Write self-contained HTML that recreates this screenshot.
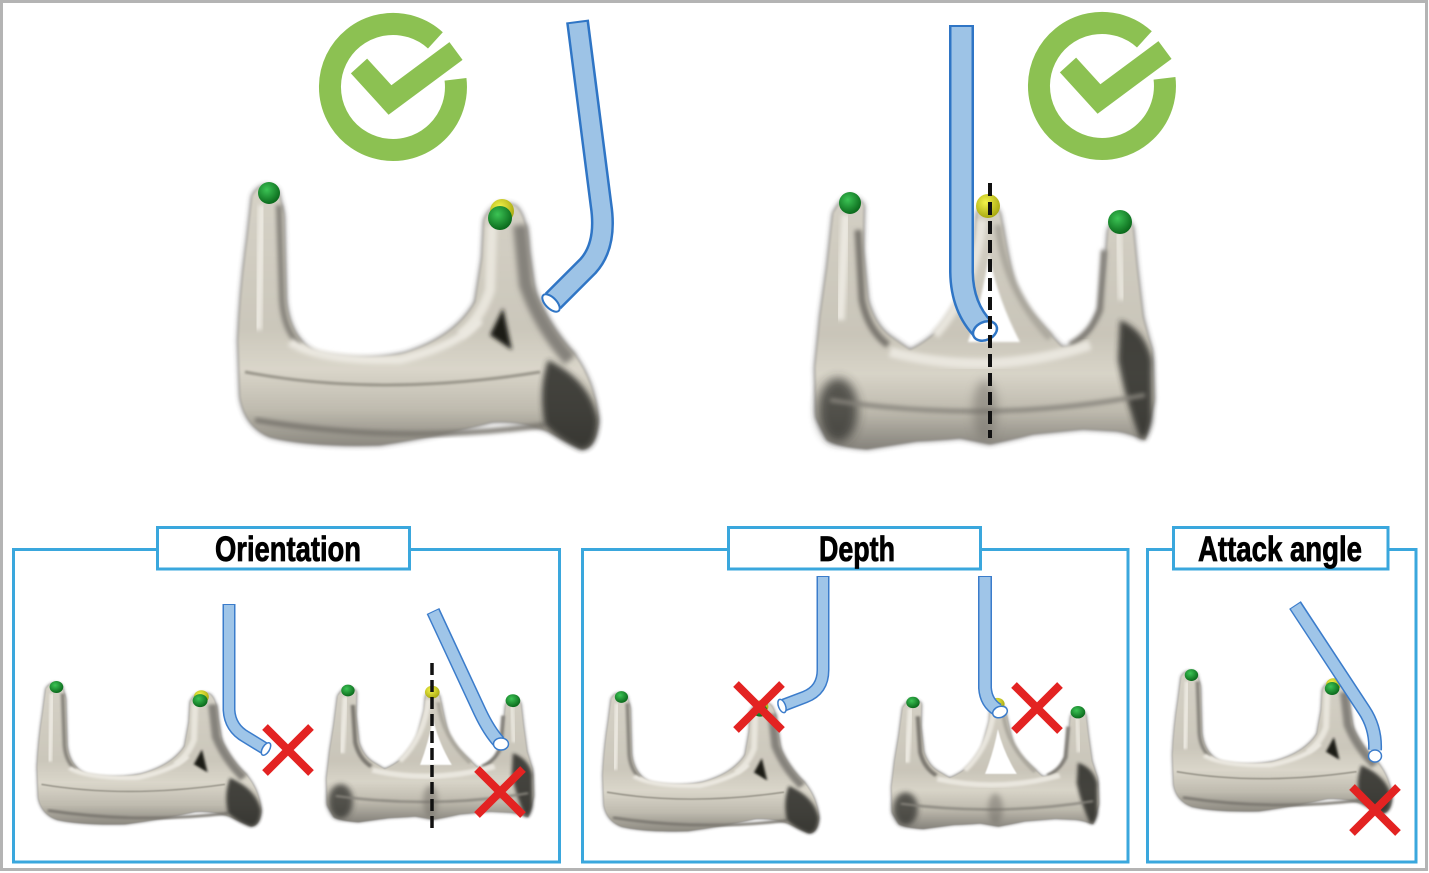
<!DOCTYPE html>
<html><head><meta charset="utf-8"><style>html,body{margin:0;padding:0;background:#fff}svg{display:block}</style></head>
<body>
<svg xmlns="http://www.w3.org/2000/svg" width="1429" height="873" viewBox="0 0 1429 873">
<defs>
  <filter id="fb1" x="-30%" y="-30%" width="160%" height="160%"><feGaussianBlur stdDeviation="1"/></filter>
  <filter id="fb2" x="-30%" y="-30%" width="160%" height="160%"><feGaussianBlur stdDeviation="2"/></filter>
  <filter id="fb3" x="-30%" y="-30%" width="160%" height="160%"><feGaussianBlur stdDeviation="3"/></filter>
  <filter id="fb5" x="-50%" y="-50%" width="200%" height="200%"><feGaussianBlur stdDeviation="5"/></filter>
  <radialGradient id="gg" cx="40%" cy="35%" r="65%"><stop offset="0" stop-color="#3cc455"/><stop offset="1" stop-color="#0b6a1c"/></radialGradient>
  <radialGradient id="gy" cx="40%" cy="35%" r="65%"><stop offset="0" stop-color="#f4f44a"/><stop offset="1" stop-color="#a9a912"/></radialGradient>
  <linearGradient id="gradA" gradientUnits="userSpaceOnUse" x1="0" y1="180" x2="0" y2="450">
    <stop offset="0" stop-color="#d6d2c7"/><stop offset="0.55" stop-color="#cbc7bb"/>
    <stop offset="0.7" stop-color="#dad6ca"/><stop offset="0.85" stop-color="#bfbbaf"/>
    <stop offset="1" stop-color="#85827a"/>
  </linearGradient>
  <linearGradient id="gradB" gradientUnits="userSpaceOnUse" x1="0" y1="195" x2="0" y2="450">
    <stop offset="0" stop-color="#d4d0c5"/><stop offset="0.55" stop-color="#c9c5b9"/>
    <stop offset="0.7" stop-color="#d8d4c8"/><stop offset="0.85" stop-color="#bdb9ad"/>
    <stop offset="1" stop-color="#84817a"/>
  </linearGradient>

  <g id="valveA">
    <path d="M252,196 Q262,178 278,190 L284,215 L285,260 L286,300 Q290,340 318,354 Q360,363 405,353 Q455,337 475,302 L482,258 L484,220 Q494,197 516,206 Q527,216 528,250 L535,294 Q550,330 575,355 Q596,385 598,420 Q596,448 582,449 Q565,441 548,431 Q520,420 492,422 Q440,436 380,445 Q310,447 270,437 Q245,427 240,397 L238,340 Q240,290 247,240 Z" fill="#3d3b37" opacity="0.85" filter="url(#fb3)"/>
    <path d="M252,196 Q262,178 278,190 L284,215 L285,260 L286,300 Q290,340 318,354 Q360,363 405,353 Q455,337 475,302 L482,258 L484,220 Q494,197 516,206 Q527,216 528,250 L535,294 Q550,330 575,355 Q596,385 598,420 Q596,448 582,449 Q565,441 548,431 Q520,420 492,422 Q440,436 380,445 Q310,447 270,437 Q245,427 240,397 L238,340 Q240,290 247,240 Z" fill="url(#gradA)" filter="url(#fb1)"/>
    <path d="M279,205 L282,300 Q284,330 300,345" stroke="#85827a" stroke-width="6" fill="none" filter="url(#fb2)"/>
    <path d="M262,205 L258,330" stroke="#ebe8e0" stroke-width="8" fill="none" filter="url(#fb2)"/>
    <path d="M492,225 L490,290 Q480,320 460,335" stroke="#e8e5dc" stroke-width="10" fill="none" filter="url(#fb2)"/>
    <path d="M520,225 L526,285 Q540,325 570,360" stroke="#85827b" stroke-width="14" fill="none" filter="url(#fb3)"/>
    <path d="M290,342 Q320,362 400,360 Q460,345 480,320" stroke="#ebe8e0" stroke-width="8" fill="none" filter="url(#fb2)"/>
    <path d="M245,372 Q380,398 540,372" stroke="#9a968b" stroke-width="3" fill="none" filter="url(#fb1)"/>
    <path d="M255,420 Q400,445 545,425" stroke="#7a7770" stroke-width="5" fill="none" filter="url(#fb2)"/>
    <path d="M490,335 L503,308 L512,350 Z" fill="#1c1b19" filter="url(#fb2)"/>
    <path d="M548,360 Q590,380 598,420 Q596,450 580,449 Q560,440 545,425 Q538,390 548,360 Z" fill="#2a2926" opacity="0.85" filter="url(#fb3)"/>
    <circle cx="269" cy="193" r="11" fill="url(#gg)"/>
    <circle cx="502" cy="211" r="12" fill="url(#gy)"/>
    <circle cx="500" cy="218" r="12" fill="url(#gg)"/>
  </g>

  <g id="valveB">
    <path d="M838,205 Q850,188 864,205 L863,250 L868,300 Q875,325 890,336 L910,350 Q930,340 942,326 Q958,305 964,288 L975,240 L977,213 Q988,193 1000,213 L1005,240 L1013,283 Q1022,305 1035,318 L1062,347 L1068,347 Q1085,337 1092,328 L1100,307 L1105,267 L1108,230 Q1120,205 1133,227 L1137,267 L1143,317 L1152,350 L1154,400 L1145,440 Q1130,433 1117,431 L1083,429 L1033,434 Q1010,440 990,444 L960,438 Q940,440 917,441 L867,449 Q840,447 827,440 L816,417 L815,367 L820,317 L827,267 L833,213 Z" fill="#3d3b37" opacity="0.85" filter="url(#fb3)"/>
    <path d="M838,205 Q850,188 864,205 L863,250 L868,300 Q875,325 890,336 L910,350 Q930,340 942,326 Q958,305 964,288 L975,240 L977,213 Q988,193 1000,213 L1005,240 L1013,283 Q1022,305 1035,318 L1062,347 L1068,347 Q1085,337 1092,328 L1100,307 L1105,267 L1108,230 Q1120,205 1133,227 L1137,267 L1143,317 L1152,350 L1154,400 L1145,440 Q1130,433 1117,431 L1083,429 L1033,434 Q1010,440 990,444 L960,438 Q940,440 917,441 L867,449 Q840,447 827,440 L816,417 L815,367 L820,317 L827,267 L833,213 Z" fill="url(#gradB)" filter="url(#fb1)"/>
    <ellipse cx="838" cy="410" rx="20" ry="32" fill="#2f2e2b" opacity="0.75" filter="url(#fb5)"/>
    <path d="M1120,320 Q1145,330 1152,360 L1152,420 Q1148,440 1140,438 Q1125,400 1118,360 Z" fill="#2a2926" opacity="0.85" filter="url(#fb3)"/>
    <path d="M858,230 L862,300 Q868,330 888,345" stroke="#7a776f" stroke-width="7" fill="none" filter="url(#fb2)"/>
    <path d="M846,215 L840,320" stroke="#ebe8e0" stroke-width="9" fill="none" filter="url(#fb2)"/>
    <path d="M1118,232 L1122,300" stroke="#e6e3da" stroke-width="8" fill="none" filter="url(#fb2)"/>
    <path d="M1104,250 L1100,310 Q1090,335 1070,345" stroke="#807d76" stroke-width="6" fill="none" filter="url(#fb2)"/>
    <path d="M982,220 Q975,290 935,335" stroke="#e8e5dd" stroke-width="9" fill="none" filter="url(#fb2)"/>
    <path d="M998,225 Q1005,290 1050,338" stroke="#aca89e" stroke-width="7" fill="none" filter="url(#fb2)"/>
    <path d="M890,352 Q990,378 1090,345" stroke="#e9e6de" stroke-width="10" fill="none" filter="url(#fb2)"/>
    <path d="M830,400 Q990,425 1145,395" stroke="#85827a" stroke-width="4" fill="none" filter="url(#fb2)"/>
    <ellipse cx="985" cy="410" rx="12" ry="30" fill="#6f6c65" opacity="0.5" filter="url(#fb5)"/>
    <path d="M989,255 Q998,300 1020,342 L968,342 Q982,300 989,255 Z" fill="#fff" filter="url(#fb1)"/>
    <circle cx="850" cy="203" r="11" fill="url(#gg)"/>
    <circle cx="988" cy="206" r="12" fill="url(#gy)"/>
    <circle cx="1120" cy="222" r="12" fill="url(#gg)"/>
  </g>
</defs>

<rect width="1429" height="873" fill="#fff"/>
<rect x="1.5" y="1.5" width="1425" height="868" fill="none" stroke="#b4b4b4" stroke-width="3"/>

<!-- Top left check -->
<path d="M455.5,79.3 A63 63 0 1 1 435.4,40.4" fill="none" stroke="#8cc152" stroke-width="22"/>
<polyline points="359,66 390,100 456,51" fill="none" stroke="#8cc152" stroke-width="22" stroke-linejoin="miter"/>
<!-- Top right check -->
<g transform="translate(709,-1)">
<path d="M455.5,79.3 A63 63 0 1 1 435.4,40.4" fill="none" stroke="#8cc152" stroke-width="22"/>
<polyline points="359,66 390,100 456,51" fill="none" stroke="#8cc152" stroke-width="22" stroke-linejoin="miter"/>
</g>

<!-- Top valves -->
<use href="#valveA"/>
<use href="#valveB"/>

<!-- Top catheters -->
<path d="M577.5,21 L601,205 Q607,245 588,266 L553,301" fill="none" stroke="#2f75c5" stroke-width="23"/>
<path d="M577.7,23 L601,205 Q607,245 588,266 L553,301" fill="none" stroke="#9dc3e6" stroke-width="18"/>
<ellipse cx="551" cy="303" rx="11" ry="5.5" transform="rotate(45 551 303)" fill="#fff" stroke="#2f75c5" stroke-width="2"/>

<path d="M961.5,25 L961.5,272 Q962,308 984,330" fill="none" stroke="#2f75c5" stroke-width="25"/>
<path d="M961.5,27 L961.5,272 Q962,308 984,330" fill="none" stroke="#9dc3e6" stroke-width="20"/>
<ellipse cx="985" cy="331" rx="12.5" ry="9" transform="rotate(-25 985 331)" fill="#fff" stroke="#2f75c5" stroke-width="2.5"/>
<line x1="990" y1="183" x2="990" y2="438" stroke="#111" stroke-width="4" stroke-dasharray="13 6"/>

<!-- Bottom boxes -->
<rect x="13.5" y="549.5" width="546" height="312.5" fill="none" stroke="#3aa7dd" stroke-width="3"/>
<rect x="582.5" y="549.5" width="545.5" height="312.5" fill="none" stroke="#3aa7dd" stroke-width="3"/>
<rect x="1147.5" y="549.5" width="268.5" height="312.5" fill="none" stroke="#3aa7dd" stroke-width="3"/>

<rect x="157.5" y="527.5" width="252" height="41.5" fill="#fff" stroke="#3aa7dd" stroke-width="3"/>
<rect x="728.5" y="527.5" width="252" height="41.5" fill="#fff" stroke="#3aa7dd" stroke-width="3"/>
<rect x="1173.5" y="527.5" width="214.5" height="41.5" fill="#fff" stroke="#3aa7dd" stroke-width="3"/>

<g font-family="'Liberation Sans Narrow','Liberation Sans',sans-serif" font-weight="bold" font-size="35" fill="#000" stroke="#000" stroke-width="0.8">
<text x="215" y="561" textLength="146" lengthAdjust="spacingAndGlyphs">Orientation</text>
<text x="819" y="561" textLength="76" lengthAdjust="spacingAndGlyphs">Depth</text>
<text x="1198" y="561" textLength="164" lengthAdjust="spacingAndGlyphs">Attack angle</text>
</g>

<!-- Small valves -->
<use href="#valveA" transform="translate(-110.9,582) scale(0.622,0.544)"/>
<use href="#valveB" transform="translate(-171.4,581.9) scale(0.611,0.535)"/>
<use href="#valveA" transform="translate(460,594.3) scale(0.6,0.532)"/>
<use href="#valveB" transform="translate(393.6,598.1) scale(0.611,0.514)"/>
<use href="#valveA" transform="translate(1027.6,570.8) scale(0.609,0.54)"/>

<!-- Small catheters -->
<g fill="none">
<path d="M229,604 L229,710 Q230,728 246,737 L264,748" stroke="#3b7ccb" stroke-width="13"/>
<path d="M229,605 L229,710 Q230,728 246,737 L264,748" stroke="#9fc5e8" stroke-width="10"/>
<path d="M433,611 L480,712 Q489,731 499,742" stroke="#3b7ccb" stroke-width="14"/>
<path d="M433.4,612 L480,712 Q489,731 499,742" stroke="#9fc5e8" stroke-width="11"/>
<path d="M823,576 L823,670 Q823,690 805,697 L784,705" stroke="#3b7ccb" stroke-width="13"/>
<path d="M823,577 L823,670 Q823,690 805,697 L784,705" stroke="#9fc5e8" stroke-width="10"/>
<path d="M985,576 L985,688 Q986,703 998,710" stroke="#3b7ccb" stroke-width="14"/>
<path d="M985,577 L985,688 Q986,703 998,710" stroke="#9fc5e8" stroke-width="11"/>
<path d="M1295,605 L1364,710 Q1376,728 1375,750" stroke="#3b7ccb" stroke-width="14"/>
<path d="M1295.5,606 L1364,710 Q1376,728 1375,750" stroke="#9fc5e8" stroke-width="11"/>
</g>
<ellipse cx="266" cy="749" rx="7" ry="3.5" transform="rotate(-59 266 749)" fill="#fff" stroke="#3b7ccb" stroke-width="1.5"/>
<ellipse cx="501" cy="744" rx="7.5" ry="6" fill="#fff" stroke="#3b7ccb" stroke-width="1.5"/>
<ellipse cx="782" cy="706" rx="7" ry="3.5" transform="rotate(69 782 706)" fill="#fff" stroke="#3b7ccb" stroke-width="1.5"/>
<ellipse cx="1000" cy="712" rx="7.5" ry="5.5" transform="rotate(-20 1000 712)" fill="#fff" stroke="#3b7ccb" stroke-width="1.5"/>
<ellipse cx="1375" cy="756" rx="6.5" ry="6" fill="#fff" stroke="#3b7ccb" stroke-width="1.5"/>

<line x1="432" y1="663" x2="432" y2="829" stroke="#111" stroke-width="3.5" stroke-dasharray="12 5"/>

<!-- Red X marks -->
<g stroke="#e32322" stroke-width="8" fill="none">
<path d="M265,727 L311,773 M311,727 L265,773"/>
<path d="M477,769 L523,815 M523,769 L477,815"/>
<path d="M736,684 L782,730 M782,684 L736,730"/>
<path d="M1014,685 L1060,731 M1060,685 L1014,731"/>
<path d="M1352,787 L1398,833 M1398,787 L1352,833"/>
</g>
</svg>
</body></html>
